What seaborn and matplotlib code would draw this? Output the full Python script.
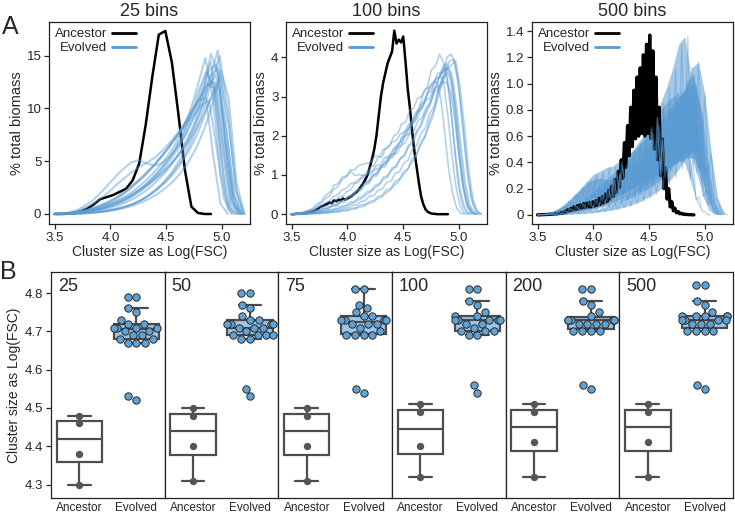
import warnings

import numpy as np
import pandas as pd
import matplotlib
matplotlib.use("Agg")
import matplotlib.pyplot as plt
from matplotlib.lines import Line2D
import seaborn as sns

warnings.filterwarnings("ignore")

# ---------------------------------------------------------
# Panel A data: % total biomass per bin (bin centres span start..end)
# ---------------------------------------------------------
anc_end = 4.9
anc25 = [0, 0, 0.02, 0.08, 0.25, 0.5, 0.9, 1.4, 1.6, 1.8, 2.1, 2.4, 3.2, 4.8, 8.5,
         13.0, 17.0, 17.35, 14.4, 9.5, 4.2, 0.7, 0.1, 0, 0]

evo25_end = [5.17, 5.18, 5.12, 5.15, 5.17, 5.08, 5.05, 5.2, 5.13, 5.16, 5.14, 5.19, 5.15, 5.1, 5.18, 5.2]
evo25 = [
    [0, 0.01, 0.02, 0.04, 0.07, 0.12, 0.2, 0.3, 0.45, 0.65, 0.9, 1.25, 1.7, 2.3, 3.0, 3.9, 5.0, 6.4, 8.1, 10.2, 12.8, 15.5, 9.0, 2.0, 0],
    [0, 0.02, 0.05, 0.1, 0.16, 0.25, 0.38, 0.55, 0.78, 1.05, 1.4, 1.85, 2.4, 3.05, 3.8, 4.7, 5.8, 7.1, 8.8, 11.5, 15.2, 13.0, 5.5, 0.8, 0],
    [0, 0.03, 0.08, 0.15, 0.25, 0.4, 0.6, 0.85, 1.15, 1.5, 1.95, 2.5, 3.1, 3.8, 4.6, 5.5, 6.6, 8.0, 9.8, 12.2, 14.8, 11.0, 4.0, 0.5, 0],
    [0, 0.05, 0.15, 0.4, 0.8, 1.3, 2.0, 2.8, 3.6, 4.3, 4.9, 5.1, 4.8, 4.6, 4.8, 5.4, 6.3, 7.5, 8.9, 10.5, 12.3, 11.8, 6.0, 1.2, 0],
    [0, 0.04, 0.12, 0.3, 0.6, 1.0, 1.5, 2.1, 2.8, 3.4, 4.0, 4.5, 4.9, 5.4, 6.1, 6.9, 7.8, 8.8, 10.0, 11.4, 13.0, 13.8, 7.0, 1.5, 0],
    [0, 0.03, 0.08, 0.18, 0.32, 0.5, 0.75, 1.05, 1.4, 1.8, 2.3, 2.9, 3.5, 4.2, 5.0, 5.9, 6.8, 7.7, 8.6, 9.5, 10.3, 10.8, 6.5, 1.5, 0],
    [0, 0.03, 0.08, 0.16, 0.28, 0.45, 0.65, 0.9, 1.2, 1.6, 2.1, 2.7, 3.3, 4.0, 4.8, 5.6, 6.5, 7.5, 8.6, 9.8, 10.8, 11.0, 5.5, 1.0, 0],
    [0, 0.01, 0.03, 0.06, 0.1, 0.16, 0.25, 0.37, 0.53, 0.73, 1.0, 1.35, 1.8, 2.35, 3.0, 3.8, 4.8, 6.0, 7.5, 9.4, 11.6, 13.0, 8.5, 2.0, 0],
    [0, 0.02, 0.06, 0.12, 0.2, 0.32, 0.48, 0.7, 0.98, 1.3, 1.7, 2.2, 2.8, 3.5, 4.3, 5.2, 6.3, 7.7, 9.5, 11.7, 13.5, 12.0, 5.0, 0.7, 0],
    [0, 0.02, 0.05, 0.1, 0.18, 0.3, 0.45, 0.65, 0.9, 1.2, 1.6, 2.1, 2.7, 3.4, 4.2, 5.1, 6.2, 7.5, 9.2, 11.3, 13.6, 14.2, 7.5, 1.5, 0],
    [0, 0.03, 0.1, 0.2, 0.35, 0.55, 0.8, 1.1, 1.5, 2.0, 2.6, 3.2, 3.9, 4.6, 5.4, 6.3, 7.3, 8.4, 9.7, 11.0, 12.3, 12.5, 6.0, 1.0, 0],
    [0, 0.01, 0.02, 0.05, 0.09, 0.15, 0.23, 0.35, 0.5, 0.7, 0.95, 1.3, 1.75, 2.3, 3.0, 3.85, 4.9, 6.2, 7.9, 10.0, 12.6, 15.0, 10.0, 2.5, 0],
    [0, 0.02, 0.06, 0.12, 0.22, 0.35, 0.52, 0.74, 1.0, 1.32, 1.7, 2.15, 2.65, 3.2, 3.85, 4.6, 5.5, 6.6, 8.0, 9.8, 12.0, 13.2, 7.0, 1.4, 0],
    [0, 0.02, 0.05, 0.1, 0.18, 0.3, 0.45, 0.65, 0.9, 1.2, 1.6, 2.05, 2.6, 3.25, 4.0, 4.9, 5.9, 7.1, 8.6, 10.4, 12.6, 14.4, 8.0, 1.5, 0],
    [0, 0.03, 0.09, 0.18, 0.3, 0.46, 0.66, 0.9, 1.2, 1.55, 1.95, 2.4, 2.9, 3.45, 4.1, 4.85, 5.7, 6.7, 7.9, 9.3, 10.9, 12.2, 7.5, 1.8, 0],
    [0, 0.01, 0.02, 0.04, 0.08, 0.13, 0.2, 0.3, 0.43, 0.6, 0.82, 1.1, 1.45, 1.9, 2.45, 3.1, 3.95, 5.0, 6.4, 8.2, 10.5, 13.6, 11.0, 3.0, 0],
]

anc100 = [0, 0, 0.01, 0.01, 0.01, 0.02, 0.03, 0.03, 0.05, 0.06, 0.08, 0.11, 0.15, 0.19, 0.21,
          0.24, 0.26, 0.3, 0.28, 0.35, 0.33, 0.37, 0.35, 0.4, 0.37, 0.4, 0.43, 0.47, 0.52, 0.56,
          0.62, 0.7, 0.78, 0.88, 1.0, 1.2, 1.4, 1.65, 2.0, 2.5, 3.0, 3.35, 3.6, 3.85, 4.0,
          4.15, 4.68, 4.35, 4.45, 4.38, 4.53, 3.9, 3.2, 2.7, 2.1, 1.6, 1.2, 0.8, 0.45, 0.25,
          0.12, 0.06, 0.03, 0.01, 0.01, 0, 0, 0, 0, 0, 0]

evo100_end = [5.15, 5.15, 5.2, 5.05, 5.1, 5.17, 5.2, 5.12, 5.18, 5.08, 5.14, 5.16]
evo100 = [
    [0, 0, 0.01, 0.01, 0.02, 0.03, 0.05, 0.05, 0.09, 0.1, 0.13, 0.15, 0.21, 0.23, 0.3, 0.33, 0.42, 0.46, 0.57, 0.6, 0.74, 0.78, 0.95, 0.98, 1.18, 1.22, 1.43, 1.48, 1.73, 1.82, 2.1, 2.26, 2.55, 2.76, 3.15, 3.4, 3.75, 3.85, 3.62, 2.8, 1.6, 0.7, 0.2, 0.05, 0],
    [0, 0.01, 0.02, 0.05, 0.09, 0.12, 0.21, 0.27, 0.4, 0.46, 0.63, 0.7, 0.88, 0.95, 1.13, 1.12, 1.24, 1.27, 1.3, 1.33, 1.5, 1.47, 1.66, 1.68, 1.84, 1.87, 2.05, 2.1, 2.3, 2.36, 2.6, 2.66, 2.9, 2.96, 3.2, 3.26, 3.38, 3.36, 3.1, 2.4, 1.5, 0.7, 0.25, 0.06, 0],
    [0, 0, 0, 0.01, 0.01, 0.02, 0.02, 0.03, 0.04, 0.05, 0.07, 0.07, 0.11, 0.11, 0.16, 0.17, 0.24, 0.24, 0.32, 0.34, 0.45, 0.48, 0.62, 0.65, 0.84, 0.89, 1.09, 1.16, 1.43, 1.53, 1.85, 2.0, 2.4, 2.65, 3.15, 3.5, 4.0, 4.08, 3.82, 3.0, 1.9, 0.9, 0.3, 0.07, 0],
    [0, 0.01, 0.02, 0.03, 0.05, 0.07, 0.11, 0.12, 0.18, 0.21, 0.29, 0.31, 0.43, 0.46, 0.58, 0.62, 0.79, 0.81, 0.99, 1.01, 1.2, 1.24, 1.45, 1.46, 1.7, 1.76, 2.0, 2.05, 2.3, 2.35, 2.65, 2.7, 2.95, 3.0, 3.2, 3.22, 3.38, 3.36, 2.9, 2.0, 1.1, 0.5, 0.15, 0.03, 0],
    [0, 0, 0.01, 0.02, 0.03, 0.04, 0.07, 0.07, 0.12, 0.13, 0.2, 0.2, 0.29, 0.31, 0.43, 0.44, 0.58, 0.6, 0.76, 0.78, 0.96, 0.98, 1.19, 1.2, 1.43, 1.45, 1.7, 1.75, 2.0, 2.05, 2.36, 2.44, 2.76, 2.9, 3.26, 3.35, 3.6, 3.6, 3.72, 3.0, 1.8, 0.8, 0.25, 0.05, 0],
    [0, 0.01, 0.03, 0.06, 0.11, 0.15, 0.26, 0.32, 0.48, 0.55, 0.74, 0.78, 0.96, 0.97, 1.08, 0.99, 1.01, 0.97, 1.08, 1.09, 1.24, 1.26, 1.45, 1.46, 1.67, 1.7, 1.95, 2.0, 2.26, 2.34, 2.66, 2.74, 3.06, 3.14, 3.45, 3.5, 3.72, 3.7, 3.5, 2.7, 1.7, 0.8, 0.25, 0.05, 0],
    [0, 0, 0.01, 0.01, 0.02, 0.02, 0.03, 0.04, 0.06, 0.06, 0.1, 0.1, 0.15, 0.16, 0.23, 0.23, 0.32, 0.34, 0.46, 0.47, 0.61, 0.64, 0.81, 0.84, 1.04, 1.08, 1.3, 1.38, 1.65, 1.75, 2.06, 2.2, 2.56, 2.74, 3.16, 3.34, 3.7, 3.8, 3.92, 3.3, 2.3, 1.2, 0.4, 0.08, 0],
    [0, 0.01, 0.01, 0.02, 0.03, 0.05, 0.08, 0.09, 0.14, 0.16, 0.23, 0.24, 0.34, 0.36, 0.47, 0.5, 0.63, 0.65, 0.81, 0.85, 1.01, 1.05, 1.24, 1.28, 1.5, 1.55, 1.8, 1.87, 2.16, 2.24, 2.56, 2.69, 3.07, 3.23, 3.68, 3.78, 4.08, 3.85, 3.3, 2.4, 1.4, 0.6, 0.2, 0.04, 0],
    [0, 0, 0, 0.01, 0.01, 0.01, 0.02, 0.02, 0.03, 0.04, 0.05, 0.06, 0.08, 0.09, 0.12, 0.14, 0.18, 0.21, 0.27, 0.3, 0.38, 0.43, 0.53, 0.6, 0.73, 0.82, 0.98, 1.1, 1.3, 1.45, 1.7, 1.9, 2.2, 2.45, 2.85, 3.2, 3.6, 3.9, 3.95, 3.4, 2.4, 1.3, 0.45, 0.1, 0],
    [0, 0.01, 0.01, 0.03, 0.04, 0.06, 0.08, 0.1, 0.14, 0.16, 0.22, 0.24, 0.32, 0.35, 0.45, 0.48, 0.6, 0.64, 0.78, 0.82, 0.98, 1.02, 1.2, 1.26, 1.46, 1.52, 1.74, 1.82, 2.06, 2.14, 2.4, 2.5, 2.76, 2.88, 3.12, 3.24, 3.42, 3.55, 3.3, 2.5, 1.5, 0.7, 0.22, 0.04, 0],
    [0, 0, 0.01, 0.01, 0.02, 0.03, 0.04, 0.05, 0.07, 0.09, 0.11, 0.13, 0.17, 0.2, 0.25, 0.29, 0.36, 0.41, 0.5, 0.56, 0.67, 0.74, 0.88, 0.95, 1.12, 1.2, 1.4, 1.5, 1.74, 1.86, 2.12, 2.28, 2.58, 2.78, 3.1, 3.35, 3.62, 3.8, 3.55, 2.8, 1.7, 0.8, 0.25, 0.05, 0],
    [0, 0.01, 0.02, 0.04, 0.07, 0.1, 0.16, 0.2, 0.29, 0.34, 0.45, 0.5, 0.62, 0.66, 0.78, 0.8, 0.9, 0.92, 1.02, 1.04, 1.15, 1.18, 1.32, 1.35, 1.52, 1.56, 1.76, 1.82, 2.05, 2.12, 2.38, 2.46, 2.74, 2.84, 3.12, 3.22, 3.5, 3.6, 3.4, 2.65, 1.65, 0.75, 0.22, 0.04, 0],
]

# 500 bins: neighbouring bins alternate high / low, so values come in pairs
anc500 = [0, 0, 0, 0.002, 0.001, 0.003, 0.002, 0.005, 0.003, 0.006,
          0.005, 0.009, 0.006, 0.012, 0.009, 0.018, 0.012, 0.026, 0.02, 0.04,
          0.028, 0.05, 0.035, 0.062, 0.04, 0.07, 0.045, 0.078, 0.05, 0.085,
          0.055, 0.09, 0.058, 0.095, 0.06, 0.1, 0.065, 0.11, 0.072, 0.125,
          0.08, 0.14, 0.09, 0.16, 0.1, 0.19, 0.12, 0.22, 0.14, 0.27,
          0.17, 0.33, 0.21, 0.42, 0.28, 0.55, 0.36, 0.68, 0.45, 0.82,
          0.52, 0.95, 0.58, 1.05, 0.6, 1.12, 0.62, 1.22, 0.6, 1.3,
          0.62, 1.37, 0.58, 1.25, 0.5, 1.05, 0.42, 0.82, 0.3, 0.58,
          0.2, 0.36, 0.12, 0.2, 0.06, 0.1, 0.03, 0.05, 0.015, 0.025,
          0.008, 0.012, 0.004, 0.006, 0.002, 0.003, 0.001, 0.001, 0, 0]

evo500_end = [5.15, 5.15, 5.2, 5.05, 5.17, 5.12]
evo500 = [
    [0, 0, 0.001, 0.001, 0.003, 0.002, 0.007, 0.004, 0.011, 0.007, 0.02, 0.011, 0.028, 0.015, 0.038, 0.021, 0.052, 0.029, 0.073, 0.038,
     0.097, 0.057, 0.12, 0.064, 0.153, 0.078, 0.185, 0.095, 0.221, 0.113, 0.26, 0.132, 0.318, 0.157, 0.367, 0.183, 0.417, 0.211, 0.489, 0.243,
     0.563, 0.286, 0.661, 0.329, 0.767, 0.387, 0.896, 0.452, 1.02, 0.497, 1.07, 0.468, 0.83, 0.286, 0.372, 0.091, 0.084, 0.016, 0.01, 0],
    [0, 0.002, 0.002, 0.007, 0.007, 0.02, 0.014, 0.041, 0.026, 0.071, 0.042, 0.112, 0.062, 0.158, 0.085, 0.209, 0.109, 0.263, 0.134, 0.311,
     0.149, 0.332, 0.161, 0.361, 0.163, 0.37, 0.181, 0.407, 0.195, 0.44, 0.215, 0.479, 0.233, 0.521, 0.252, 0.564, 0.278, 0.619, 0.298, 0.676,
     0.328, 0.739, 0.357, 0.802, 0.386, 0.865, 0.415, 0.925, 0.434, 0.946, 0.43, 0.868, 0.33, 0.546, 0.164, 0.196, 0.044, 0.043, 0.005, 0],
    [0, 0, 0, 0.0003, 0.003, 0.001, 0.004, 0.002, 0.009, 0.003, 0.01, 0.005, 0.015, 0.007, 0.02, 0.01, 0.029, 0.014, 0.038, 0.019,
     0.051, 0.025, 0.068, 0.032, 0.086, 0.041, 0.112, 0.052, 0.142, 0.066, 0.177, 0.083, 0.229, 0.104, 0.281, 0.128, 0.344, 0.157, 0.418, 0.192,
     0.509, 0.234, 0.621, 0.286, 0.763, 0.353, 0.938, 0.431, 1.122, 0.485, 1.163, 0.456, 0.916, 0.294, 0.464, 0.108, 0.122, 0.022, 0.015, 0],
    [0, 0.002, 0.002, 0.006, 0.004, 0.012, 0.007, 0.021, 0.012, 0.033, 0.019, 0.05, 0.027, 0.07, 0.037, 0.094, 0.049, 0.126, 0.063, 0.157,
     0.079, 0.199, 0.098, 0.24, 0.117, 0.282, 0.135, 0.322, 0.157, 0.375, 0.179, 0.418, 0.203, 0.48, 0.231, 0.542, 0.259, 0.604, 0.285, 0.668,
     0.317, 0.742, 0.347, 0.805, 0.374, 0.858, 0.394, 0.9, 0.413, 0.933, 0.403, 0.8, 0.27, 0.428, 0.114, 0.138, 0.027, 0.025, 0.002, 0],
    [0, 0.001, 0.005, 0.005, 0.016, 0.012, 0.035, 0.023, 0.065, 0.04, 0.107, 0.062, 0.155, 0.086, 0.203, 0.11, 0.246, 0.127, 0.275, 0.136,
     0.277, 0.129, 0.267, 0.131, 0.282, 0.143, 0.311, 0.157, 0.348, 0.177, 0.389, 0.196, 0.435, 0.221, 0.489, 0.249, 0.549, 0.278, 0.61, 0.315,
     0.691, 0.354, 0.772, 0.393, 0.853, 0.432, 0.93, 0.463, 0.991, 0.485, 0.992, 0.455, 0.772, 0.286, 0.386, 0.104, 0.097, 0.02, 0.009, 0],
    [0, 0.002, 0.001, 0.004, 0.002, 0.008, 0.005, 0.018, 0.008, 0.029, 0.014, 0.045, 0.02, 0.064, 0.028, 0.086, 0.038, 0.115, 0.049, 0.149,
     0.062, 0.184, 0.076, 0.224, 0.092, 0.272, 0.11, 0.317, 0.128, 0.368, 0.15, 0.427, 0.172, 0.493, 0.199, 0.565, 0.229, 0.65, 0.259, 0.744,
     0.295, 0.848, 0.339, 0.97, 0.389, 1.114, 0.441, 1.3, 0.481, 1.36, 0.446, 1.056, 0.31, 0.608, 0.139, 0.192, 0.034, 0.038, 0.004, 0],
]

# ---------------------------------------------------------
# Panel B data: cluster size (Log FSC) per population
# ---------------------------------------------------------
bin_settings = ["25", "50", "75", "100", "200", "500"]
ancestor_vals = {
    "25": [4.48, 4.46, 4.38, 4.30],
    "50": [4.50, 4.48, 4.40, 4.31],
    "75": [4.50, 4.48, 4.40, 4.31],
    "100": [4.51, 4.49, 4.40, 4.32],
    "200": [4.51, 4.49, 4.41, 4.32],
    "500": [4.51, 4.49, 4.41, 4.32],
}
evolved_vals = {
    "25": [4.79, 4.79, 4.76, 4.75, 4.73, 4.72, 4.72, 4.71, 4.71, 4.71, 4.71, 4.70, 4.70, 4.69, 4.69, 4.68, 4.68, 4.67, 4.67, 4.67, 4.53, 4.52],
    "50": [4.80, 4.80, 4.77, 4.76, 4.74, 4.73, 4.73, 4.72, 4.72, 4.72, 4.72, 4.71, 4.71, 4.71, 4.70, 4.69, 4.69, 4.69, 4.69, 4.68, 4.68, 4.55, 4.53],
    "75": [4.81, 4.81, 4.77, 4.76, 4.75, 4.74, 4.74, 4.73, 4.73, 4.73, 4.73, 4.72, 4.72, 4.72, 4.71, 4.70, 4.69, 4.69, 4.69, 4.69, 4.55, 4.54],
    "100": [4.81, 4.81, 4.78, 4.77, 4.75, 4.74, 4.74, 4.73, 4.73, 4.73, 4.73, 4.73, 4.72, 4.72, 4.71, 4.70, 4.70, 4.70, 4.69, 4.69, 4.56, 4.54],
    "200": [4.81, 4.81, 4.78, 4.77, 4.75, 4.74, 4.73, 4.73, 4.73, 4.73, 4.73, 4.73, 4.72, 4.72, 4.72, 4.72, 4.70, 4.70, 4.70, 4.70, 4.56, 4.55],
    "500": [4.82, 4.82, 4.78, 4.77, 4.75, 4.74, 4.74, 4.74, 4.74, 4.74, 4.73, 4.73, 4.73, 4.73, 4.72, 4.72, 4.72, 4.70, 4.70, 4.70, 4.70, 4.56, 4.55],
}
groups = ["Ancestor", "Evolved"]

BLUE = "#5a9bd2"
LINE_GREY = "#4d4d4d"


def curve_frame(ys, ends, start=3.5):
    parts = []
    for k, (y, end) in enumerate(zip(ys, ends)):
        parts.append(pd.DataFrame({"x": np.linspace(start, end, len(y)), "y": y, "rep": k}))
    return pd.concat(parts, ignore_index=True)


def style_top(ax, title, ylim, yt, ytl):
    ax.set_xlim(3.45, 5.25)
    ax.set_ylim(*ylim)
    ax.set_xticks([3.5, 4.0, 4.5, 5.0])
    ax.set_xticklabels(["3.5", "4.0", "4.5", "5.0"])
    ax.set_yticks(yt)
    ax.set_yticklabels(ytl)
    ax.tick_params(direction="out", length=3.5, width=0.9, pad=2, labelsize=9.5)
    ax.set_xlabel("Cluster size as Log(FSC)", fontsize=10, labelpad=1)
    ax.set_ylabel("% total biomass", fontsize=10.5, labelpad=2)
    ax.set_title(title, fontsize=13, pad=4)
    handles = [Line2D([], [], color="black", lw=2), Line2D([], [], color=BLUE, lw=2)]
    ax.legend(handles, groups, loc="upper left", frameon=False, markerfirst=False,
              fontsize=9.5, handlelength=1.8, handletextpad=0.4, labelspacing=0.15,
              borderaxespad=0.25, borderpad=0.2)


sns.set_style("ticks")
plt.rcParams["font.family"] = ["Liberation Sans", "DejaVu Sans"]
plt.rcParams["axes.linewidth"] = 0.9
plt.rcParams["axes.edgecolor"] = "#222222"

fig = plt.figure(figsize=(7.35, 5.14), dpi=100)

# ---------------------------------------------------------
# A: histograms at 25 and 100 bins
# ---------------------------------------------------------
top_cfg = [
    ("25 bins", anc25, evo25, evo25_end, (-0.95, 18.2), [0, 5, 10, 15], ["0", "5", "10", "15"], 49, 1.5),
    ("100 bins", anc100, evo100, evo100_end, (-0.25, 4.9), [0, 1, 2, 3, 4], ["0", "1", "2", "3", "4"], 286, 1.2),
]
for title, anc, evo, ends, ylim, yt, ytl, left_px, evo_lw in top_cfg:
    ax = fig.add_axes([left_px / 735, 290 / 514, 201 / 735, 202 / 514])
    anc_df = pd.DataFrame({"x": np.linspace(3.5, anc_end, len(anc)), "y": anc})
    sns.lineplot(data=anc_df, x="x", y="y", color="black", lw=1.8, ax=ax)
    sns.lineplot(data=curve_frame(evo, ends), x="x", y="y", units="rep", estimator=None,
                 color=BLUE, alpha=0.45, lw=evo_lw, ax=ax)
    style_top(ax, title, ylim, yt, ytl)

# 500 bins: the bin-to-bin alternation is so fine that each trace reads as a band
ax = fig.add_axes([532 / 735, 290 / 514, 201 / 735, 202 / 514])
anc_df = pd.DataFrame({"x": np.linspace(3.5, anc_end, len(anc500)), "y": anc500})
sns.lineplot(data=anc_df, x="x", y="y", color="black", lw=2.4, ax=ax)
for y, end in zip(evo500, evo500_end):
    y = np.asarray(y)
    x = np.linspace(3.5, end, len(y))
    ax.fill_between(x[0::2], np.minimum(y[0::2], y[1::2]), np.maximum(y[0::2], y[1::2]),
                    color=BLUE, alpha=0.55, lw=0)
sns.lineplot(data=curve_frame(evo500, evo500_end), x="x", y="y", units="rep", estimator=None,
             color=BLUE, alpha=0.45, lw=0.8, ax=ax)
style_top(ax, "500 bins", (-0.07, 1.47), [0, 0.2, 0.4, 0.6, 0.8, 1.0, 1.2, 1.4],
          ["0", "0.2", "0.4", "0.6", "0.8", "1.0", "1.2", "1.4"])

# ---------------------------------------------------------
# B: box + points for each bin setting
# ---------------------------------------------------------
rows = []
for b in bin_settings:
    rows += [(b, "Ancestor", v) for v in ancestor_vals[b]]
    rows += [(b, "Evolved", v) for v in evolved_vals[b]]
box_df = pd.DataFrame(rows, columns=["bins", "group", "val"])

w = 113.67 / 735
ax0 = None
for k, b in enumerate(bin_settings):
    ax = fig.add_axes([51 / 735 + k * w, 16 / 514, w, 226 / 514], sharey=ax0)
    if ax0 is None:
        ax0 = ax
    sub = box_df[box_df["bins"] == b]
    sns.boxplot(data=sub, x="group", y="val", hue="group", order=groups, hue_order=groups,
                palette={"Ancestor": "white", "Evolved": "#9dc6e8"}, saturation=1,
                width=0.8, linecolor=LINE_GREY, linewidth=1.6, showfliers=False,
                legend=False, ax=ax)
    sns.stripplot(data=sub[sub["group"] == "Ancestor"], x="group", y="val", order=groups,
                  color="#555555", size=5.3, jitter=False, ax=ax)
    sns.swarmplot(data=sub[sub["group"] == "Evolved"], x="group", y="val", order=groups,
                  color="#5fa2d6", size=5.3, edgecolor="#2a2a2a", linewidth=0.7, ax=ax)
    ax.set_xlim(-0.5, 1.5)
    ax.set_ylim(4.265, 4.855)
    ax.set_xlabel("")
    ax.text(0.06, 0.975, b, transform=ax.transAxes, ha="left", va="top", fontsize=13)
    ax.tick_params(axis="x", length=0, pad=3, labelsize=8.5)
    if k == 0:
        ax.set_yticks([4.3, 4.4, 4.5, 4.6, 4.7, 4.8])
        ax.set_yticklabels(["4.3", "4.4", "4.5", "4.6", "4.7", "4.8"])
        ax.tick_params(axis="y", direction="out", length=3.5, width=0.9, pad=2, labelsize=9.5)
        ax.set_ylabel("Cluster size as Log(FSC)", fontsize=10, labelpad=3)
    else:
        ax.tick_params(axis="y", length=0, labelleft=False)
        ax.set_ylabel("")

fig.text(2 / 735, 1 - 15 / 514, "A", fontsize=18, ha="left", va="top")
fig.text(0 / 735, 1 - 260 / 514, "B", fontsize=18, ha="left", va="top")

fig.savefig("out.png", dpi=100)
